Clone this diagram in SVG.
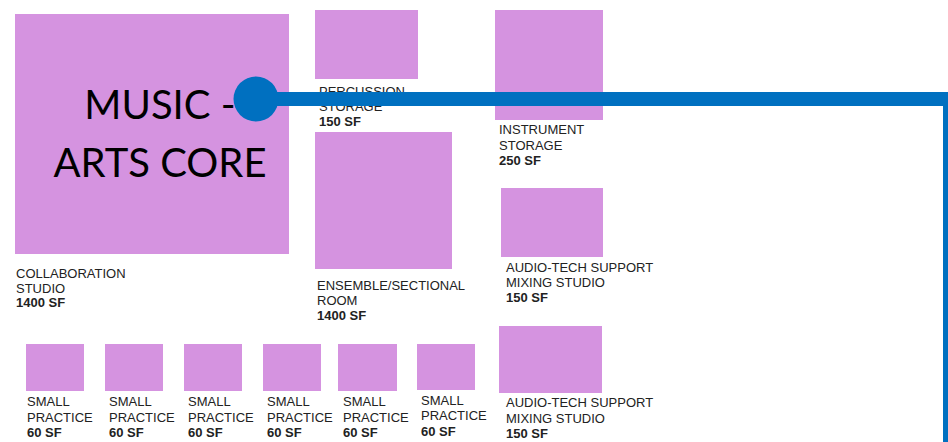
<svg xmlns="http://www.w3.org/2000/svg" width="948" height="442" viewBox="0 0 948 442">
<style>
.room{fill:#D593E0}
.lbl{font-family:"Liberation Sans",Arial,sans-serif;font-size:13px;fill:#222}
.sf{font-weight:bold}
.core{font-family:Lato,"Open Sans",sans-serif;font-size:40px;fill:#000;text-anchor:middle}
.conn{stroke:#0070C0;stroke-width:14;fill:none}
</style>
<rect width="948" height="442" fill="#fff"/>
<g id="collaboration-studio">
<rect class="room" x="15" y="14" width="274" height="240"/>
<text class="lbl" x="16"><tspan x="16" y="278">COLLABORATION</tspan><tspan x="16" y="292.5">STUDIO</tspan><tspan class="sf" x="16" y="307">1400 SF</tspan></text>
</g>
<g id="percussion-storage">
<rect class="room" x="315" y="10" width="103" height="69"/>
<text class="lbl"><tspan x="319" y="96">PERCUSSION</tspan><tspan x="319" y="111">STORAGE</tspan><tspan class="sf" x="319" y="126">150 SF</tspan></text>
</g>
<g id="ensemble-room">
<rect class="room" x="315" y="132" width="137" height="137"/>
<text class="lbl"><tspan x="317" y="290">ENSEMBLE/SECTIONAL</tspan><tspan x="317" y="305">ROOM</tspan><tspan class="sf" x="317" y="319.5">1400 SF</tspan></text>
</g>
<g id="instrument-storage">
<rect class="room" x="495" y="10" width="108" height="110"/>
<text class="lbl"><tspan x="499" y="134">INSTRUMENT</tspan><tspan x="499" y="149.5">STORAGE</tspan><tspan class="sf" x="499" y="165">250 SF</tspan></text>
</g>
<g id="audio-tech-1">
<rect class="room" x="501" y="188" width="102" height="69"/>
<text class="lbl"><tspan x="506" y="272">AUDIO-TECH SUPPORT</tspan><tspan x="506" y="287">MIXING STUDIO</tspan><tspan class="sf" x="506" y="302">150 SF</tspan></text>
</g>
<g id="audio-tech-2">
<rect class="room" x="499" y="326" width="103" height="67"/>
<text class="lbl"><tspan x="506" y="407">AUDIO-TECH SUPPORT</tspan><tspan x="506" y="422.5">MIXING STUDIO</tspan><tspan class="sf" x="506" y="438">150 SF</tspan></text>
</g>
<g id="small-practice-1">
<rect class="room" x="26" y="344" width="58" height="47"/>
<text class="lbl"><tspan x="27" y="406">SMALL</tspan><tspan x="27" y="421.5">PRACTICE</tspan><tspan class="sf" x="27" y="437">60 SF</tspan></text>
</g>
<g id="small-practice-2">
<rect class="room" x="105" y="344" width="58" height="47"/>
<text class="lbl"><tspan x="109" y="406">SMALL</tspan><tspan x="109" y="421.5">PRACTICE</tspan><tspan class="sf" x="109" y="437">60 SF</tspan></text>
</g>
<g id="small-practice-3">
<rect class="room" x="184" y="344" width="58" height="47"/>
<text class="lbl"><tspan x="188" y="406">SMALL</tspan><tspan x="188" y="421.5">PRACTICE</tspan><tspan class="sf" x="188" y="437">60 SF</tspan></text>
</g>
<g id="small-practice-4">
<rect class="room" x="263" y="344" width="58" height="47"/>
<text class="lbl"><tspan x="267" y="406">SMALL</tspan><tspan x="267" y="421.5">PRACTICE</tspan><tspan class="sf" x="267" y="437">60 SF</tspan></text>
</g>
<g id="small-practice-5">
<rect class="room" x="338" y="344" width="59" height="47"/>
<text class="lbl"><tspan x="343" y="406">SMALL</tspan><tspan x="343" y="421.5">PRACTICE</tspan><tspan class="sf" x="343" y="437">60 SF</tspan></text>
</g>
<g id="small-practice-6">
<rect class="room" x="417" y="344" width="58" height="46"/>
<text class="lbl"><tspan x="421" y="405">SMALL</tspan><tspan x="421" y="420">PRACTICE</tspan><tspan class="sf" x="421" y="435.5">60 SF</tspan></text>
</g>
<g id="music-arts-core">
<text class="core"><tspan x="160" y="119">MUSIC -</tspan><tspan x="160" y="177">ARTS CORE</tspan></text>
</g>
<g id="connectors">
<path class="conn" d="M256,99 H950 V450"/>
<circle cx="256" cy="99" r="22.5" fill="#0070C0"/>
</g>
</svg>
